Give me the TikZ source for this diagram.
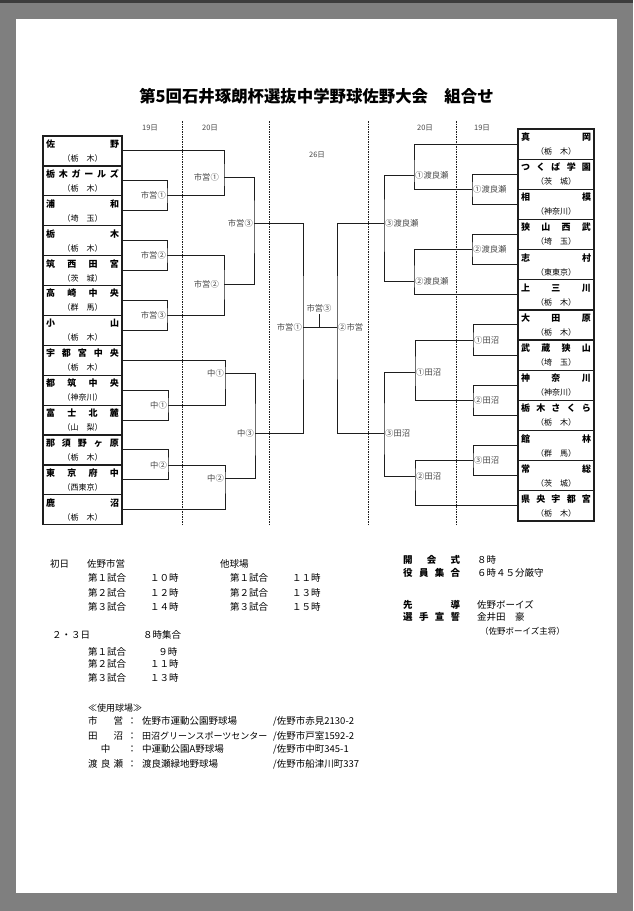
\documentclass[tikz,border=0pt]{standalone}
\usepackage{fontspec}
\setmainfont{Noto Sans CJK JP}
\usetikzlibrary{positioning}
\definecolor{pageGray}{HTML}{7F7F7F}
\definecolor{topBar}  {HTML}{3C3C3C}
\definecolor{ink}     {HTML}{1E1E1E}
\definecolor{lblInk}  {HTML}{484848}
\def\spreadloop#1#2\relax{#1\ifx\relax#2\relax\else\hfill\spreadloop#2\relax\fi}
\newcommand{\spreadtext}[1]{\spreadloop#1\relax}
\newcommand{\team}[3][73pt]{\makebox[#1][s]{\bfseries\spreadtext{#2}}\\{\fontsize{8}{14}\selectfont #3}}

\begin{document}
\begin{tikzpicture}[x=1pt,y=-1pt,
      teamL/.style={draw=ink,line width=1.2pt,outer sep=0pt,inner sep=0pt,
                    minimum width=79pt,minimum height=29.9pt,align=center,
                    font=\fontsize{9}{14}\selectfont},
      teamR/.style={teamL,minimum width=76pt,minimum height=30.15pt},
      br/.style={draw=ink,line width=1pt},
      lblL/.style={anchor=east,inner sep=1pt,text=lblInk,font=\fontsize{8.3}{9}\selectfont},
      lblR/.style={lblL,anchor=west},
      day/.style={text=lblInk,font=\fontsize{7.5}{8}\selectfont},
      dotline/.style={draw=ink,line width=0.8pt,dash pattern=on 1.5pt off 1pt},
      txt/.style={anchor=west,inner sep=0pt,font=\fontsize{9.5}{10}\selectfont},
      hd/.style={txt,font=\fontsize{9.5}{10}\selectfont\bfseries}]
    \useasboundingbox (0,0) rectangle (633,911);
    \fill[pageGray] (0,0) rectangle (633,911);
    \fill[topBar] (0,0) rectangle (633,3);
    \fill[white] (16,19) rectangle (617,893);

    \node[font=\bfseries\fontsize{16.4}{18}\selectfont] (title) at (316.5,96)
       {第5回石井琢朗杯選抜中学野球佐野大会　組合せ};

    % day columns
    \node[day] (dL19) at (150,128) {19日};
    \node[day] (dL20) at (210,128) {20日};
    \node[day] (d26)  at (317,155) {26日};
    \node[day] (dR20) at (425,128) {20日};
    \node[day] (dR19) at (482,128) {19日};
    \draw[dotline] (182,121) -- (182,524);
    \draw[dotline] (269,121) -- (269,524);
    \draw[dotline] (368,121) -- (368,524);
    \draw[dotline] (456,121) -- (456,524);

    % left teams
    \node[teamL,anchor=north west] (L1) at (43,136) {\team{佐野}{（栃　木）}};
    \node[teamL,below=0pt of L1]  (L2)  {\team{栃木ガールズ}{（栃　木）}};
    \node[teamL,below=0pt of L2]  (L3)  {\team{浦和}{（埼　玉）}};
    \node[teamL,below=0pt of L3]  (L4)  {\team{栃木}{（栃　木）}};
    \node[teamL,below=0pt of L4]  (L5)  {\team{筑西田宮}{（茨　城）}};
    \node[teamL,below=0pt of L5]  (L6)  {\team{高崎中央}{（群　馬）}};
    \node[teamL,below=0pt of L6]  (L7)  {\team{小山}{（栃　木）}};
    \node[teamL,below=0pt of L7]  (L8)  {\team{宇都宮中央}{（栃　木）}};
    \node[teamL,below=0pt of L8]  (L9)  {\team{都筑中央}{（神奈川）}};
    \node[teamL,below=0pt of L9]  (L10) {\team{富士北麓}{（山　梨）}};
    \node[teamL,below=0pt of L10] (L11) {\team{那須野ヶ原}{（栃　木）}};
    \node[teamL,below=0pt of L11] (L12) {\team{東京府中}{（西東京）}};
    \node[teamL,below=0pt of L12] (L13) {\team{鹿沼}{（栃　木）}};

    % right teams
    \node[teamR,anchor=north west] (R1) at (518,129) {\team[70pt]{真岡}{（栃　木）}};
    \node[teamR,below=0pt of R1]  (R2)  {\team[70pt]{つくば学園}{（茨　城）}};
    \node[teamR,below=0pt of R2]  (R3)  {\team[70pt]{相模}{（神奈川）}};
    \node[teamR,below=0pt of R3]  (R4)  {\team[70pt]{狭山西武}{（埼　玉）}};
    \node[teamR,below=0pt of R4]  (R5)  {\team[70pt]{志村}{（東東京）}};
    \node[teamR,below=0pt of R5]  (R6)  {\team[70pt]{上三川}{（栃　木）}};
    \node[teamR,below=0pt of R6]  (R7)  {\team[70pt]{大田原}{（栃　木）}};
    \node[teamR,below=0pt of R7]  (R8)  {\team[70pt]{武蔵狭山}{（埼　玉）}};
    \node[teamR,below=0pt of R8]  (R9)  {\team[70pt]{神奈川}{（神奈川）}};
    \node[teamR,below=0pt of R9]  (R10) {\team[70pt]{栃木さくら}{（栃　木）}};
    \node[teamR,below=0pt of R10] (R11) {\team[70pt]{館林}{（群　馬）}};
    \node[teamR,below=0pt of R11] (R12) {\team[70pt]{常総}{（茨　城）}};
    \node[teamR,below=0pt of R12] (R13) {\team[70pt]{県央宇都宮}{（栃　木）}};

    % match points
    \coordinate (m1) at (167,195.7);  \coordinate (m2) at (167,255.5);
    \coordinate (m3) at (167,315.5);  \coordinate (m4) at (168,405);
    \coordinate (m5) at (168,465);
    \coordinate (s1) at (224,177);    \coordinate (s2) at (224,284);
    \coordinate (s3) at (225,373);    \coordinate (s4) at (225,478);
    \coordinate (sf1) at (254,223);   \coordinate (sf2) at (255,433);
    \coordinate (n1) at (472,189.2);  \coordinate (n2) at (472,249.5);
    \coordinate (n3) at (473,340);    \coordinate (n4) at (473,400.3);
    \coordinate (n5) at (473,460.5);
    \coordinate (t1) at (414,175);    \coordinate (t2) at (414,281);
    \coordinate (t3) at (415,372);    \coordinate (t4) at (415,476);
    \coordinate (tf1) at (384,223);   \coordinate (tf2) at (384,433);
    \coordinate (fl) at (303,327);    \coordinate (fr) at (337,327);
    \coordinate (fc) at (319,327);    \coordinate (ft) at (319,314);

    % left bracket
    \draw[br] (L2.east) -| (m1) |- (L3.east);
    \draw[br] (L4.east) -| (m2) |- (L5.east);
    \draw[br] (L6.east) -| (m3) |- (L7.east);
    \draw[br] (L9.east) -| (m4) |- (L10.east);
    \draw[br] (L11.east) -| (m5) |- (L12.east);
    \draw[br] (L1.east) -| (s1) |- (m1);
    \draw[br] (m2) -| (s2) |- (m3);
    \draw[br] (L8.east) -| (s3) |- (m4);
    \draw[br] (m5) -| (s4) |- (L13.east);
    \draw[br] (s1) -| (sf1) |- (s2);
    \draw[br] (s3) -| (sf2) |- (s4);

    % right bracket
    \draw[br] (R2.west) -| (n1) |- (R3.west);
    \draw[br] (R4.west) -| (n2) |- (R5.west);
    \draw[br] (R7.west) -| (n3) |- (R8.west);
    \draw[br] (R9.west) -| (n4) |- (R10.west);
    \draw[br] (R11.west) -| (n5) |- (R12.west);
    \draw[br] (R1.west) -| (t1) |- (n1);
    \draw[br] (n2) -| (t2) |- (R6.west);
    \draw[br] (n3) -| (t3) |- (n4);
    \draw[br] (n5) -| (t4) |- (R13.west);
    \draw[br] (t1) -| (tf1) |- (t2);
    \draw[br] (t3) -| (tf2) |- (t4);

    % final
    \draw[br] (sf1) -| (fl) |- (sf2);
    \draw[br] (tf1) -| (fr) |- (tf2);
    \draw[br] (fl) -- (fr);
    \draw[br] (fc) -- (ft);

    % match labels
    \node[lblL] (m1l) at (m1) {市営①};  \node[lblL] (m2l) at (m2) {市営②};
    \node[lblL] (m3l) at (m3) {市営③};  \node[lblL] (m4l) at (m4) {中①};
    \node[lblL] (m5l) at (m5) {中②};
    \node[lblL,xshift=-4pt] (s1l) at (s1) {市営①};
    \node[lblL,xshift=-4pt] (s2l) at (s2) {市営②};
    \node[lblL] (s3l) at (s3) {中①};    \node[lblL] (s4l) at (s4) {中②};
    \node[lblL] (sf1l) at (sf1) {市営③}; \node[lblL] (sf2l) at (sf2) {中③};
    \node[lblR] (n1l) at (n1) {①渡良瀬}; \node[lblR] (n2l) at (n2) {②渡良瀬};
    \node[lblR] (n3l) at (n3) {①田沼};   \node[lblR] (n4l) at (n4) {②田沼};
    \node[lblR] (n5l) at (n5) {③田沼};
    \node[lblR] (t1l) at (t1) {①渡良瀬}; \node[lblR] (t2l) at (t2) {②渡良瀬};
    \node[lblR] (t3l) at (t3) {①田沼};   \node[lblR] (t4l) at (t4) {②田沼};
    \node[lblR] (tf1l) at (tf1) {③渡良瀬}; \node[lblR] (tf2l) at (tf2) {③田沼};
    \node[lblL] (fll) at (fl) {市営①};   \node[lblR] (frl) at (fr) {②市営};
    \node[lblL,anchor=south,inner sep=2pt] (ftl) at (ft) {市営③};

    % schedule
    \node[txt] (day1)  at (50,564)  {初日};
    \node[txt] (site1) at (87,564)  {佐野市営};
    \node[txt] (g11) at (88,577.7)  {第１試合}; \node[txt] (h11) at (150,577.7) {１０時};
    \node[txt] (g12) at (88,592.7)  {第２試合}; \node[txt] (h12) at (150,592.7) {１２時};
    \node[txt] (g13) at (88,606.7)  {第３試合}; \node[txt] (h13) at (150,606.7) {１４時};
    \node[txt] (site2) at (220,564) {他球場};
    \node[txt] (g21) at (230,577.7) {第１試合}; \node[txt] (h21) at (292,577.7) {１１時};
    \node[txt] (g22) at (230,592.7) {第２試合}; \node[txt] (h22) at (292,592.7) {１３時};
    \node[txt] (g23) at (230,606.7) {第３試合}; \node[txt] (h23) at (292,606.7) {１５時};
    \node[txt] (day2)  at (52,635)  {２・３日};
    \node[txt] (meet2) at (143,635) {８時集合};
    \node[txt] (g31) at (88,651.7)  {第１試合}; \node[txt,anchor=east] (h31) at (177.5,651.7) {９時};
    \node[txt] (g32) at (88,664.3)  {第２試合}; \node[txt] (h32) at (150,664.3) {１１時};
    \node[txt] (g33) at (88,678.3)  {第３試合}; \node[txt] (h33) at (150,678.3) {１３時};

    % ceremony
    \node[hd] (open)  at (403,560) {\makebox[57pt][s]{\spreadtext{開会式}}};
    \node[txt] (openT) at (477,560) {８時};
    \node[hd] (staff) at (403,573) {\makebox[57pt][s]{\spreadtext{役員集合}}};
    \node[txt] (staffT) at (477,573) {６時４５分厳守};
    \node[hd] (lead)  at (403,605) {\makebox[57pt][s]{\spreadtext{先導}}};
    \node[txt] (leadT) at (477,605) {佐野ボーイズ};
    \node[hd] (oath)  at (403,617) {\makebox[57pt][s]{\spreadtext{選手宣誓}}};
    \node[txt] (oathT) at (477,617) {金井田　豪};
    \node[txt,font=\fontsize{8.5}{9}\selectfont] (oathN) at (480,631) {（佐野ボーイズ主将）};

    % venues
    \node[txt,font=\fontsize{9}{10}\selectfont] (venH) at (88,708) {≪使用球場≫};
    \node[txt] (v1k) at (88,721) {\makebox[35pt][s]{\spreadtext{市営}}};
    \node[txt,anchor=center] (v1c) at (132,721) {：};
    \node[txt] (v1n) at (142,721) {佐野市運動公園野球場};
    \node[txt] (v1a) at (273,721) {/佐野市赤見2130-2};
    \node[txt] (v2k) at (88,736) {\makebox[35pt][s]{\spreadtext{田沼}}};
    \node[txt,anchor=center] (v2c) at (132,736) {：};
    \node[txt,font=\fontsize{9}{10}\selectfont] (v2n) at (142,736) {田沼グリーンスポーツセンター};
    \node[txt] (v2a) at (273,736) {/佐野市戸室1592-2};
    \node[txt,anchor=center] (v3k) at (105.5,749) {中};
    \node[txt,anchor=center] (v3c) at (132,749) {：};
    \node[txt] (v3n) at (142,749) {中運動公園A野球場};
    \node[txt] (v3a) at (273,749) {/佐野市中町345-1};
    \node[txt] (v4k) at (88,764) {\makebox[35pt][s]{\spreadtext{渡良瀬}}};
    \node[txt,anchor=center] (v4c) at (132,764) {：};
    \node[txt] (v4n) at (142,764) {渡良瀬緑地野球場};
    \node[txt] (v4a) at (273,764) {/佐野市船津川町337};
  \end{tikzpicture}
\end{document}
